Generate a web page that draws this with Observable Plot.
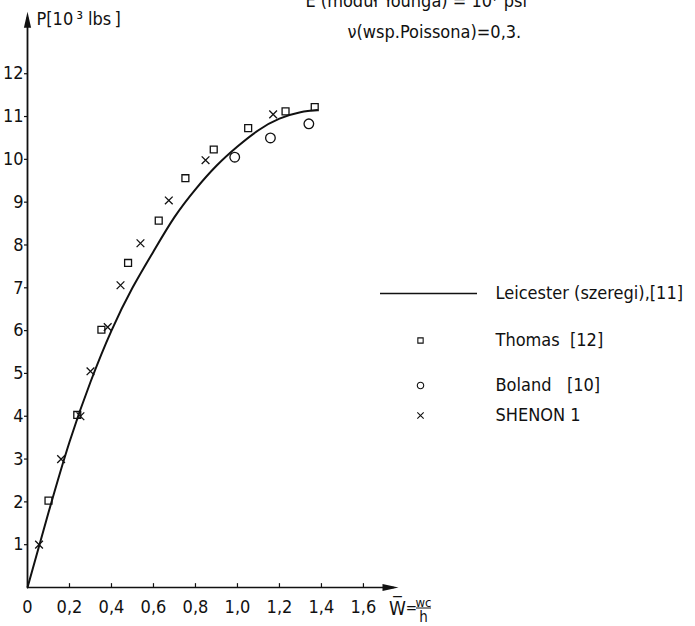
<!DOCTYPE html>
<html><head><meta charset="utf-8">
<script src="https://cdn.jsdelivr.net/npm/d3@7"></script>
<script src="https://cdn.jsdelivr.net/npm/@observablehq/plot@0.6"></script>
<style>body{margin:0;background:#fff}</style>
</head><body><div id="chart"></div>
<script>
// ---- data (W = wc/h, P in 10^3 lbs) ----
const leicesterW = [0, 0.1, 0.2, 0.3, 0.4, 0.5, 0.6, 0.7, 0.8, 0.9, 1.0, 1.1, 1.2, 1.3, 1.38];
const leicesterP = [0, 1.75, 3.4, 4.8, 6.0, 7.0, 7.85, 8.65, 9.3, 9.85, 10.3, 10.68, 10.95, 11.1, 11.15];
const thomasW = [0.10, 0.237, 0.352, 0.479, 0.625, 0.752, 0.887, 1.051, 1.229, 1.368];
const thomasP = [2.03, 4.03, 6.02, 7.58, 8.57, 9.56, 10.23, 10.73, 11.12, 11.22];
const bolandW = [0.987, 1.157, 1.34];
const bolandP = [10.05, 10.5, 10.83];
const shenonW = [0.055, 0.16, 0.252, 0.30, 0.382, 0.443, 0.538, 0.673, 0.848, 1.17];
const shenonP = [1.0, 3.0, 4.0, 5.05, 6.08, 7.06, 8.04, 9.04, 9.98, 11.05];
const xTicks = [0, 0.2, 0.4, 0.6, 0.8, 1.0, 1.2, 1.4, 1.6];
const xTickLabels = ["0", "0,2", "0,4", "0,6", "0,8", "1,0", "1,2", "1,4", "1,6"];
const yTicks = [1, 2, 3, 4, 5, 6, 7, 8, 9, 10, 11, 12];
const legendNames = ["Leicester (szeregi),[11]", "Thomas\u00a0\u00a0[12]", "Boland\u00a0\u00a0\u00a0[10]", "SHENON 1"];
const legendSymbols = ["line", "square", "circle", "times"];

// ---- layout ----
const W = 695, H = 626;
const mL = 27, mR = 297, mT = 9, mB = 39;
const xMax = 1.767, yMax = 13.5;
const FONT = "DejaVu Sans Condensed, DejaVu Sans, sans-serif";
const FS = 18;
// pixel -> data helpers for annotation placement
const X = px => (px - mL) / (W - mL - mR) * xMax;
const Y = py => (H - mB - py) / (H - mT - mB) * yMax;

const mk = (w, p) => w.map((d, i) => ({w: d, p: p[i]}));
const leicester = mk(leicesterW, leicesterP);
const thomas = mk(thomasW, thomasP);
const boland = mk(bolandW, bolandP);
const shenon = mk(shenonW, shenonP);

const arrowHead = {draw(ctx) { ctx.moveTo(0, 0); ctx.lineTo(3.6, 16); ctx.lineTo(-3.6, 16); ctx.closePath(); }};

const legendRows = legendNames.map((n, i) => ({name: n, sym: legendSymbols[i], py: [293, 340, 385, 415][i]}));

const txt = (s, px, py, o = {}) => Plot.text([s], {x: X(px), y: Y(py), text: d => d, fontSize: FS, fontFamily: FONT, fill: "#111", ...o});

const chart = Plot.plot({
  width: W, height: H,
  marginLeft: mL, marginRight: mR, marginTop: mT, marginBottom: mB,
  x: {domain: [0, xMax], axis: null},
  y: {domain: [0, yMax], axis: null},
  style: {fontFamily: FONT, background: "#fff", color: "#111"},
  marks: [
    // axes lines
    Plot.ruleY([0], {x1: 0, x2: xMax - 0.02, stroke: "#111", strokeWidth: 1.6}),
    Plot.ruleX([0], {y1: 0, y2: yMax - 0.2, stroke: "#111", strokeWidth: 1.8}),
    Plot.dot([0], {x: xMax, y: 0, symbol: arrowHead, rotate: 90, fill: "#111", stroke: "none", r: 5}),
    Plot.dot([0], {x: 0, y: yMax - 0.05, symbol: arrowHead, fill: "#111", stroke: "none", r: 5}),
    // ticks
    Plot.ruleX(xTicks.slice(1), {x: d => d, y1: 0, y2: 0.09, stroke: "#111", strokeWidth: 1.2}),
    Plot.ruleY(yTicks, {y: d => d, x1: X(24), x2: 0, stroke: "#111", strokeWidth: 1.2}),
    Plot.text(xTicks, {x: d => d, y: 0, dy: 20, text: (d, i) => xTickLabels[i], fontSize: FS, fontFamily: FONT, fill: "#111"}),
    Plot.text(yTicks, {x: 0, y: d => d, dx: -4, text: d => String(d), textAnchor: "end", fontSize: FS, fontFamily: FONT, fill: "#111"}),
    // axis titles
    txt("P[10\u2009\u00b3 lbs\u2009]", 36, 24, {textAnchor: "start", lineAnchor: "bottom"}),
    txt("W\u0305", 397, 608, {fontSize: 19}),
    txt("=", 411, 608, {fontSize: 15}),
    txt("wc", 423, 602, {fontSize: 13}),
    txt("h", 423, 617, {fontSize: 15}),
    Plot.ruleY([Y(607.5)], {x1: X(416), x2: X(431), stroke: "#111", strokeWidth: 1}),
    // top notes
    txt("E (moduł Younga) = 10\u2077 psi", 305, 6, {textAnchor: "start", lineAnchor: "bottom"}),
    txt("\u03bd(wsp.Poissona)=0,3.", 347, 37, {textAnchor: "start", lineAnchor: "bottom"}),
    // data
    Plot.line(leicester, {x: "w", y: "p", curve: "natural", stroke: "#111", strokeWidth: 2}),
    Plot.dot(thomas, {x: "w", y: "p", symbol: "square", r: 3.9, stroke: "#111", fill: "none", strokeWidth: 1.3}),
    Plot.dot(boland, {x: "w", y: "p", symbol: "circle", r: 4.8, stroke: "#111", fill: "none", strokeWidth: 1.3}),
    Plot.dot(shenon, {x: "w", y: "p", symbol: "times", r: 3.6, stroke: "#111", strokeWidth: 1.3}),
    // legend
    Plot.ruleY(legendRows.filter(d => d.sym === "line"), {y: d => Y(d.py), x1: X(380), x2: X(477), stroke: "#111", strokeWidth: 1.6}),
    Plot.dot(legendRows.filter(d => d.sym !== "line"), {x: X(420), y: d => Y(d.py), symbol: d => d.sym, r: d => d.sym === "circle" ? 3.2 : 2.8, stroke: "#111", fill: "none", strokeWidth: 1.1}),
    Plot.text(legendRows, {x: X(495), y: d => Y(d.py), text: "name", textAnchor: "start", fontSize: FS, fontFamily: FONT, fill: "#111"})
  ]
});
document.getElementById("chart").appendChild(chart);
</script>
</body></html>
